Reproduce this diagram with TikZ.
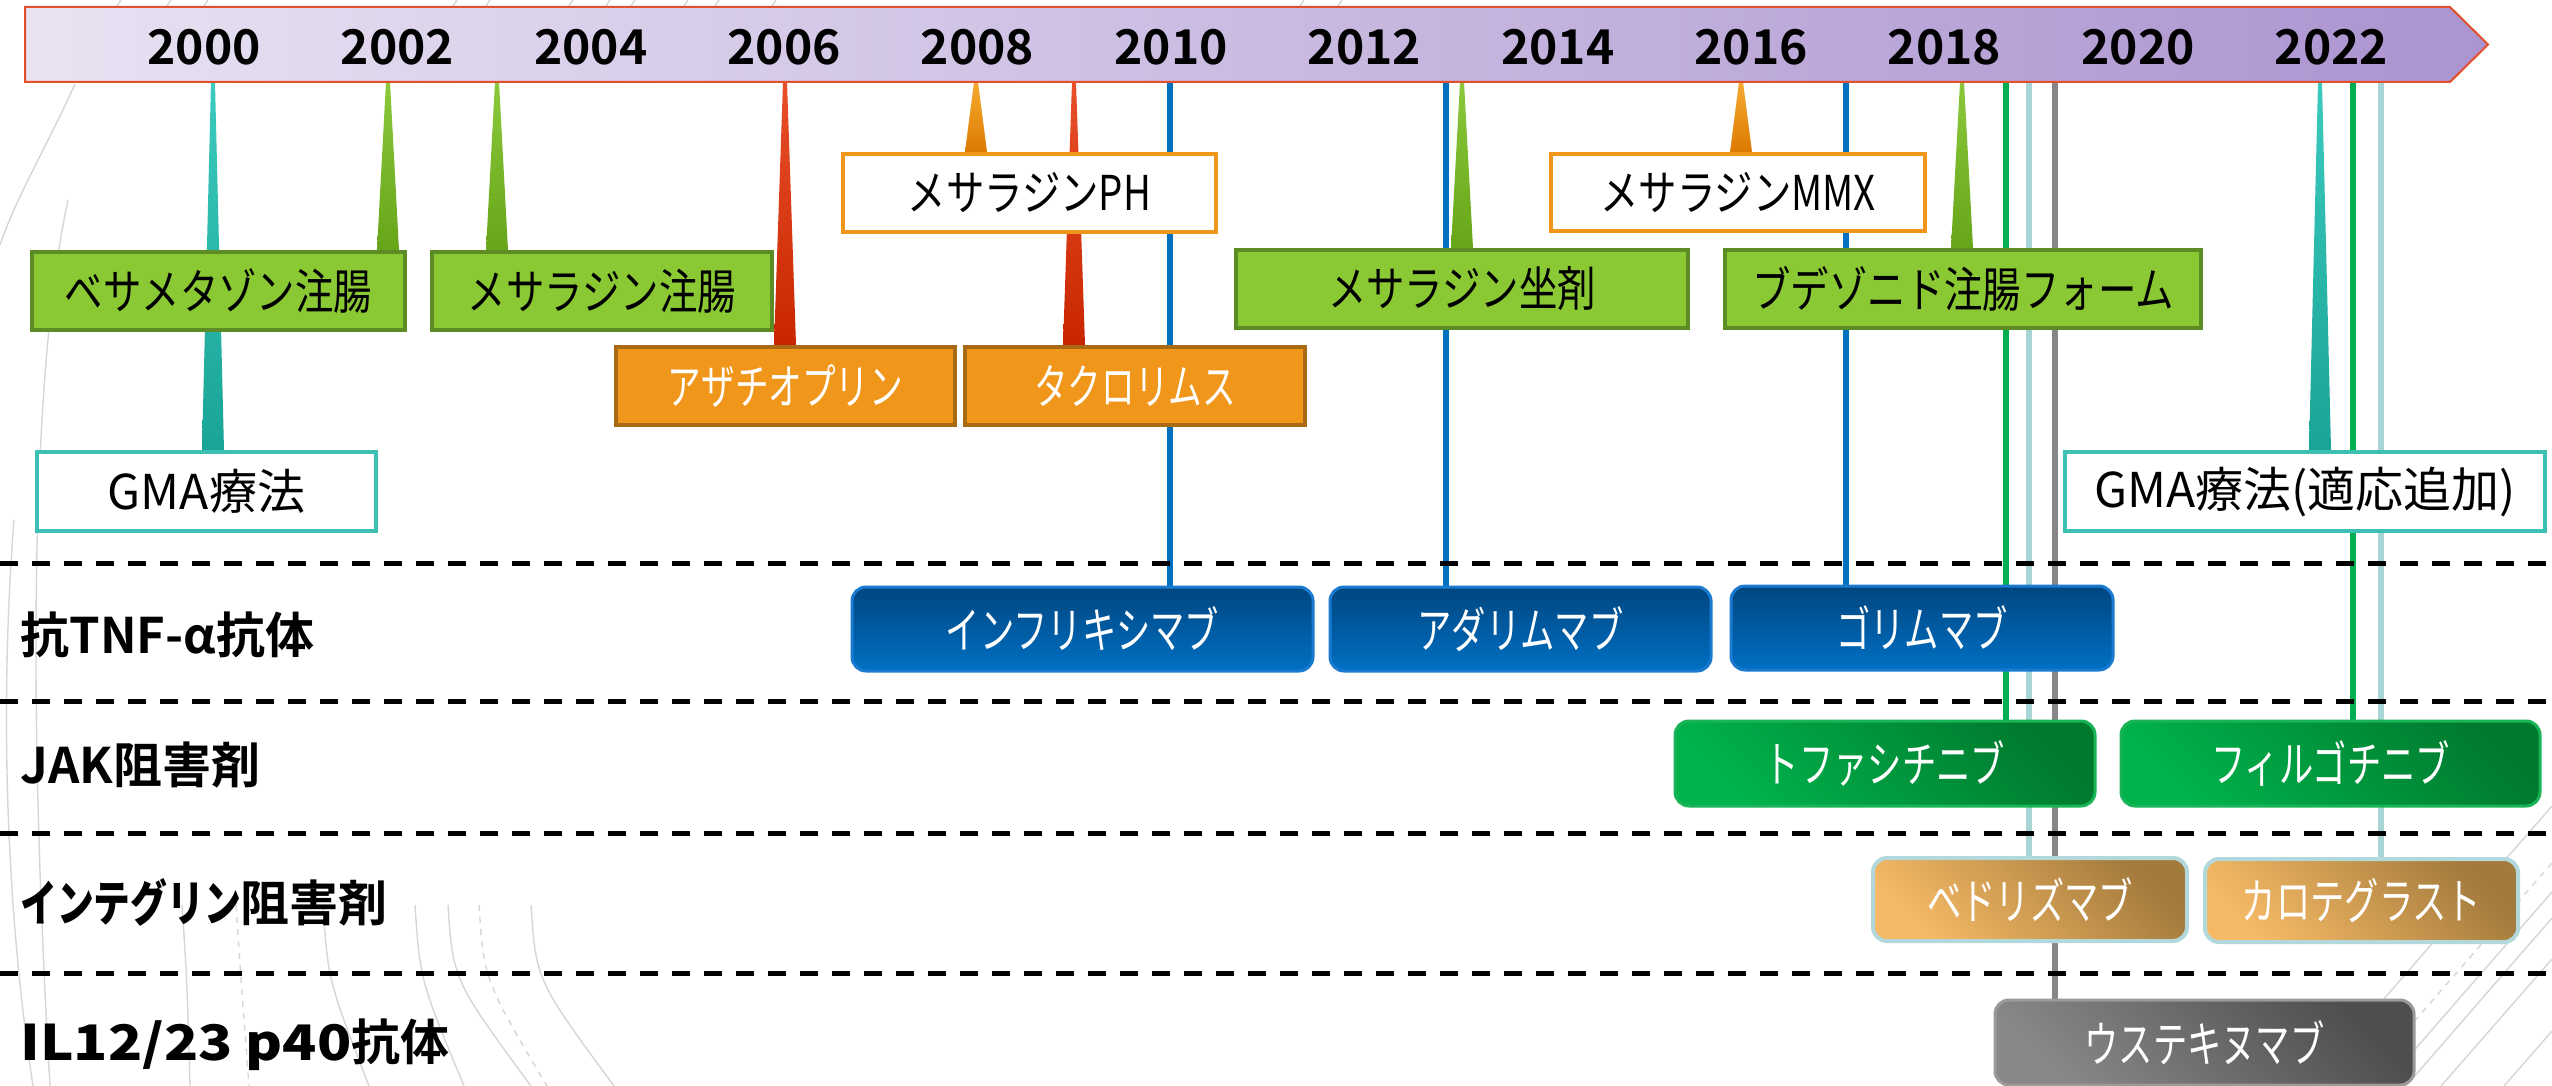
\documentclass[tikz,border=0pt]{standalone}
\usepackage{fontspec}
\setmainfont{Noto Sans CJK JP}[BoldFont={Noto Sans CJK JP Bold}]
\newfontfamily\jpn{Noto Sans CJK JP}[FakeStretch=0.8]
\newfontfamily\jpnc{Noto Sans CJK JP}[FakeStretch=0.7]
\newfontfamily\jpnb{Noto Sans CJK JP Bold}[FakeStretch=0.75]
\newfontfamily\jpnw{Noto Sans CJK JP Bold}[FakeStretch=1.15]
\usetikzlibrary{calc}
\pgfdeclarelayer{back}
\pgfdeclarelayer{mid}
\pgfsetlayers{back,mid,main}

\definecolor{barL}{HTML}{E8E2F2}
\definecolor{barR}{HTML}{AC94D0}
\definecolor{barB}{HTML}{E2502C}
\definecolor{gfill}{HTML}{8AC834}
\definecolor{gbord}{HTML}{5E8C24}
\definecolor{ofill}{HTML}{F0961A}
\definecolor{obord}{HTML}{A86A14}
\definecolor{tealb}{HTML}{3CC0B2}
\definecolor{tealT}{HTML}{3CCABF}
\definecolor{tealD}{HTML}{18A496}
\definecolor{grT}{HTML}{8CC83C}
\definecolor{grD}{HTML}{66A618}
\definecolor{rdT}{HTML}{E8502A}
\definecolor{rdD}{HTML}{C82600}
\definecolor{orT}{HTML}{F6AA30}
\definecolor{orD}{HTML}{DC7A00}
\definecolor{blueL}{HTML}{0070C0}
\definecolor{greenL}{HTML}{00B050}
\definecolor{lblueL}{HTML}{A8D4D6}
\definecolor{grayL}{HTML}{878787}
\definecolor{bdark}{HTML}{00467F}
\definecolor{blight}{HTML}{0070C4}
\definecolor{bbord}{HTML}{1A7AD0}
\definecolor{jdark}{HTML}{007A2E}
\definecolor{jlight}{HTML}{00B34C}
\definecolor{jbord}{HTML}{18B455}
\definecolor{tdark}{HTML}{A27A3C}
\definecolor{tlight}{HTML}{F6BA66}
\definecolor{tbord}{HTML}{B2D8DC}
\definecolor{udark}{HTML}{4E4E4E}
\definecolor{ulight}{HTML}{888888}
\definecolor{ubord}{HTML}{9A9A9A}
\definecolor{arcc}{HTML}{D6D6D6}

\newcommand{\tlspike}[4]{%
  \shade[top color=#3, bottom color=#4]
    ($(#1)+(-2,0)$) -- ($(#1)+(2,0)$) --
    ($(#2.north -| #1)+(11,0)$) -- ($(#2.north -| #1)+(-11,0)$) -- cycle;}

\begin{document}
\begin{tikzpicture}[x=0.5pt,y=-0.5pt,
  sz/.style 2 args={minimum width=#1pt, minimum height=#2pt},
  yearlab/.style={font=\bfseries\fontsize{24}{26}\selectfont, inner sep=0pt},
  rowlab/.style={font=\bfseries\fontsize{24.5}{27}\selectfont, anchor=west, inner sep=0pt},
  gbox/.style={draw=gbord, fill=gfill, line width=2pt, inner sep=0pt,
    font=\jpn\fontsize{24}{26}\selectfont},
  obox/.style={draw=obord, fill=ofill, line width=2pt, inner sep=0pt, text=white,
    font=\jpnc\fontsize{24}{26}\selectfont},
  wbox/.style={draw=ofill, fill=white, line width=2pt, inner sep=0pt,
    font=\jpn\fontsize{24}{26}\selectfont},
  tbox/.style={draw=tealb, fill=white, line width=2pt, inner sep=0pt,
    font=\fontsize{24}{26}\selectfont},
  rbox/.style={rounded corners=7pt, line width=1.5pt, inner sep=0pt, text=white,
    font=\jpnc\fontsize{24.5}{27}\selectfont},
  bluebox/.style={rbox, draw=bbord, top color=bdark, bottom color=blight},
  jakbox/.style={rbox, draw=jbord, top color=jdark, bottom color=jlight, shading angle=-45},
  tanbox/.style={rbox, draw=tbord, line width=2pt, top color=tdark, bottom color=tlight, shading angle=-45},
  graybox/.style={rbox, draw=ubord, top color=udark, bottom color=ulight, shading angle=-45},
  vline/.style={line width=2.8pt},
  sepline/.style={line width=2.5pt, dash pattern=on 9pt off 7pt},
  deco/.style={draw=arcc, line width=0.7pt}
]
\useasboundingbox (0,0) rectangle (2552,1086);

% ---------- background decoration ----------
\begin{pgfonlayer}{back}
\fill[white] (0,0) rectangle (2552,1086);
\draw[deco] (75,84) .. controls (45,150) and (15,200) .. (0,245);
\draw[deco] (68,200) .. controls (40,330) and (22,600) .. (50,1086);
\draw[deco] (14,520) .. controls (0,700) and (5,900) .. (33,1086);
\foreach \a/\b in {182/190,323/369,415/464,448/531,531/614}
  \draw[deco] (\a,905) .. controls (\a+5,980) .. (\b,1086);
\foreach \a/\b in {236/249,479/547}
  \draw[deco,dashed] (\a,905) .. controls (\a+5,980) .. (\b,1086);
\draw[deco] (2552,806) -- (2308,1086);
\draw[deco,dashed] (2552,863) -- (2358,1086);
\draw[deco] (2552,892) -- (2383,1086);
\draw[deco] (2552,918) -- (2406,1086);
\draw[deco] (2552,959) -- (2441,1086);
\draw[deco] (2552,1031) -- (2504,1086);
\foreach \t in {120,170,207,456,489,572,609,634,687,718,775,1303,1341}
  \draw[deco] (\t-3,6) -- (\t+1,0);
\end{pgfonlayer}

% ---------- timeline bar ----------
\shade[left color=barL, right color=barR, draw=barB, line width=1pt]
  (25,7) -- (2450,7) -- (2488,44.5) -- (2450,82) -- (25,82) -- cycle;

\foreach \yr [count=\i from 0] in {2000,2002,...,2022}
  \node[yearlab] (y\yr) at (204+\i*193.4,47) {\yr};

\coordinate (t00) at (213,82);
\coordinate (t02) at (388,82);
\coordinate (t04) at (497,82);
\coordinate (t06) at (785,82);
\coordinate (t08) at (976,82);
\coordinate (t09) at (1074,82);
\coordinate (t13) at (1462,82);
\coordinate (t16) at (1741,82);
\coordinate (t18) at (1962,82);
\coordinate (t22) at (2320,82);
\coordinate (cInf) at (1170,82);
\coordinate (cAda) at (1446,82);
\coordinate (cGol) at (1846,82);
\coordinate (cTof) at (2006,82);
\coordinate (cVed) at (2029,82);
\coordinate (cUst) at (2055,82);
\coordinate (cFil) at (2353,82);
\coordinate (cCar) at (2381,82);

% ---------- separators ----------
\foreach \yy in {563,701,833,973}
  \draw[sepline] (0,\yy) -- (2552,\yy);

% ---------- row labels ----------
\node[rowlab] (rTNF) at (20,635) {抗TNF-α抗体};
\node[rowlab] (rJAK) at (20,765) {JAK阻害剤};
\node[rowlab] (rINT) at (20,902) {{\jpnb インテグリン}阻害剤};
\node[rowlab] (rIL)  at (20,1045) {{\jpnw IL12/23 p40}抗体};

% ---------- upper boxes ----------
\node[gbox, sz={186.5}{39}] (bet)  at (218.5,291) {ベサメタゾン注腸};
\node[gbox, sz={170}{39}]   (mesE) at (602,291) {メサラジン注腸};
\node[obox, sz={169.5}{39}] (aza)  at (785.5,386) {アザチオプリン};
\node[obox, sz={170}{39}]   (tac)  at (1135,386) {タクロリムス};
\node[wbox, sz={186.5}{39}] (mesPH) at (1029.5,193) {メサラジンPH};
\node[gbox, sz={226}{39}]   (mesS) at (1462,289) {メサラジン坐剤};
\node[wbox, sz={187}{38.5}] (mesMMX) at (1738,192.5) {メサラジンMMX};
\node[gbox, sz={238}{39}]   (bud)  at (1963,289) {ブデゾニド注腸フォーム};
\node[tbox, sz={169.5}{39.5}] (gma1) at (206.5,491.5) {GMA療法};
\node[tbox, sz={240}{39.5}] (gma2) at (2305,491.5) {GMA療法(適応追加)};

% ---------- lower boxes ----------
\node[bluebox, sz={230.5}{42}] (inf) at (1082.5,629) {インフリキシマブ};
\node[bluebox, sz={190.5}{42}] (ada) at (1520.5,629) {アダリムマブ};
\node[bluebox, sz={191}{42}]   (gol) at (1922,628) {ゴリムマブ};
\node[jakbox, sz={210}{42.5}]  (tof) at (1885,763.5) {トファシチニブ};
\node[jakbox, sz={209.5}{42.5}] (fil) at (2330.5,763.5) {フィルゴチニブ};
\node[tanbox, sz={157}{41.5}]  (ved) at (2030,899.5) {ベドリズマブ};
\node[tanbox, sz={156.5}{41.5}] (car) at (2361.5,900.5) {カロテグラスト};
\node[graybox, sz={209.5}{42.5}] (ust) at (2204.5,1042.5) {ウステキヌマブ};

% ---------- connectors ----------
\begin{pgfonlayer}{mid}
\tlspike{t00}{gma1}{tealT}{tealD}
\tlspike{t02}{bet}{grT}{grD}
\tlspike{t04}{mesE}{grT}{grD}
\tlspike{t06}{aza}{rdT}{rdD}
\tlspike{t08}{mesPH}{orT}{orD}
\tlspike{t09}{tac}{rdT}{rdD}
\tlspike{t13}{mesS}{grT}{grD}
\tlspike{t16}{mesMMX}{orT}{orD}
\tlspike{t18}{bud}{grT}{grD}
\tlspike{t22}{gma2}{tealT}{tealD}
\draw[vline, blueL] (cInf) -- (inf.north -| cInf);
\draw[vline, blueL] (cAda) -- (ada.north -| cAda);
\draw[vline, blueL] (cGol) -- (gol.north -| cGol);
\draw[vline, greenL] (cTof) -- (tof.north -| cTof);
\draw[vline, lblueL] (cVed) -- (ved.north -| cVed);
\draw[vline, grayL] (cUst) -- (ust.north -| cUst);
\draw[vline, greenL] (cFil) -- (fil.north -| cFil);
\draw[vline, lblueL] (cCar) -- (car.north -| cCar);
\end{pgfonlayer}
\end{tikzpicture}
\end{document}
